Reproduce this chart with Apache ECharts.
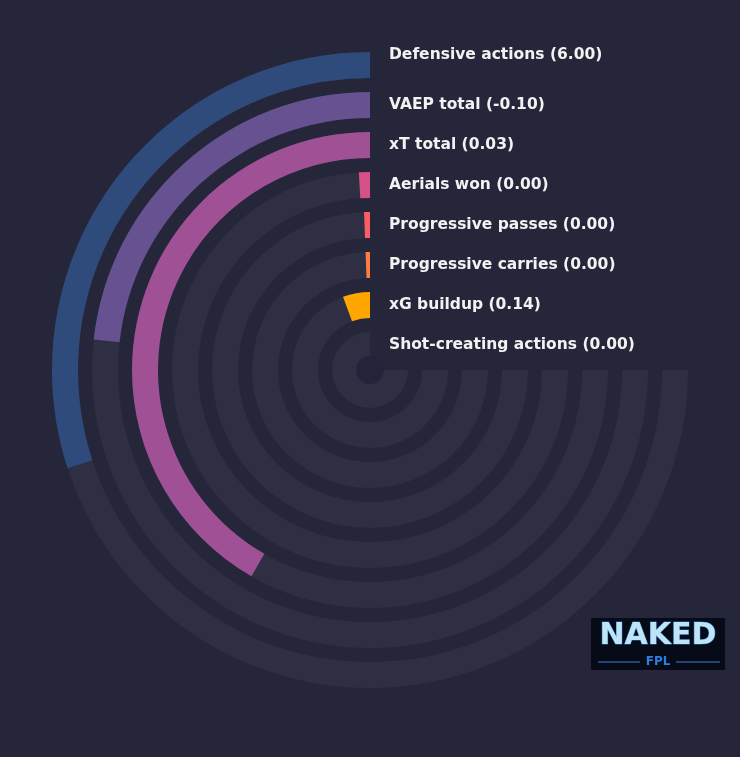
<!DOCTYPE html>
<html><head><meta charset="utf-8">
<script src="https://cdn.jsdelivr.net/npm/echarts@6/dist/echarts.min.js"></script>
<style>html,body{margin:0;background:#25263a}#c{width:740px;height:757px}</style>
</head><body><div id="c"></div>
<script>
const categories = ['Shot-creating actions','xG buildup','Progressive carries','Progressive passes','Aerials won','xT total','VAEP total','Defensive actions'];
const valueLabels = ['0.00','0.14','0.00','0.00','0.00','0.03','-0.10','6.00'];
const fractions = [0.0, 0.075, 0.008, 0.008, 0.012, 0.556, 0.31, 0.40];
const colors = ['#003f5c','#ffa600','#ff7c43','#f95d6a','#d45087','#a05195','#665191','#2f4b7c'];
const CX = 370, CY = 370, R0 = 5, R1 = 325;
const band = (R1 - R0) / categories.length;
const labelGraphics = categories.map((c, i) => ({
  type:'text', z:101,
  style:{x:389, y:CY - (R0 + band*(i+0.5)) - (i === categories.length-1 ? 10 : 0),
    text:c+' ('+valueLabels[i]+')', fill:'#f2f2f2', font:'bold 15.5px "DejaVu Sans"', textVerticalAlign:'middle'}
}));
const chart = echarts.init(document.getElementById('c'));
chart.setOption({
  backgroundColor:'#25263a',
  animation:false,
  polar:{center:[CX,CY],radius:[R0,R1]},
  angleAxis:{type:'value',min:0,max:360/270,startAngle:90,clockwise:false,show:false},
  radiusAxis:{type:'category',data:categories,show:false},
  series:[
    {type:'bar',coordinateSystem:'polar',data:categories.map(()=>1),barCategoryGap:'35%',barGap:'-100%',itemStyle:{color:'#2e2f43'},silent:true,z:1},
    {type:'bar',coordinateSystem:'polar',data:fractions.map((v,i)=>({value:v,itemStyle:{color:colors[i]}})),barCategoryGap:'35%',barGap:'-100%',z:2}
  ],
  graphic:[
    {type:'circle',shape:{cx:CX,cy:CY,r:14},style:{fill:'#23243a'},z:100},
    ...labelGraphics,
    {type:'rect',shape:{x:591,y:618,width:134,height:52},style:{fill:'#070b18'},z:100},
    {type:'text',style:{x:658,y:636,text:'NAKED',fill:'#bfe4f5',font:'bold 30px "DejaVu Sans"',textAlign:'center',textVerticalAlign:'middle',stroke:'#1d6fb8',lineWidth:1},z:101},
    {type:'line',shape:{x1:598,y1:662,x2:640,y2:662},style:{stroke:'#3d7fd0',lineWidth:1},z:101},
    {type:'line',shape:{x1:676,y1:662,x2:720,y2:662},style:{stroke:'#3d7fd0',lineWidth:1},z:101},
    {type:'text',style:{x:658,y:662,text:'FPL',fill:'#2f7fe0',font:'bold 12px "DejaVu Sans"',textAlign:'center',textVerticalAlign:'middle'},z:101}
  ]
});
</script></body></html>
